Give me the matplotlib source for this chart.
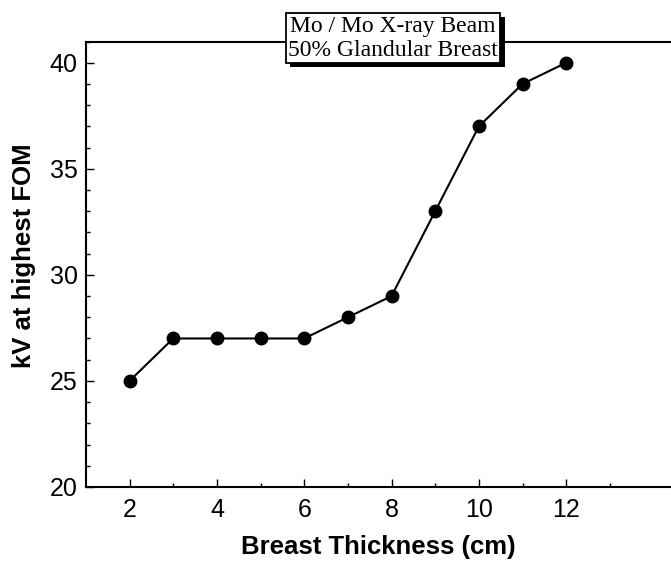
import numpy as np
import matplotlib.pyplot as plt
from matplotlib.ticker import FixedLocator, MultipleLocator
import matplotlib.patheffects as pe

# breast thickness (cm) vs. tube voltage giving the highest FOM
thickness = [2, 3, 4, 5, 6, 7, 8, 9, 10, 11, 12]
kv_best = [25, 27, 27, 27, 27, 28, 29, 33, 37, 39, 40]

fig = plt.figure(figsize=(6.71, 5.61), dpi=100)
ax = fig.add_axes([0.128, 0.132, 0.872, 0.794])

ax.plot(thickness, kv_best, color='black', lw=1.5, marker='o', ms=9,
        markerfacecolor='black', markeredgecolor='black')

ax.set_xlim(1, 14.4)
ax.set_ylim(20, 41)
ax.xaxis.set_major_locator(FixedLocator([2, 4, 6, 8, 10, 12]))
ax.xaxis.set_minor_locator(FixedLocator([3, 5, 7, 9, 11, 13]))
ax.yaxis.set_major_locator(MultipleLocator(5))
ax.yaxis.set_minor_locator(MultipleLocator(1))
ax.tick_params(which='both', direction='in', top=False, right=False, labelsize=18, width=1)
ax.tick_params(which='major', length=6)
ax.tick_params(axis='x', which='major', pad=8)
ax.tick_params(axis='y', which='major', pad=6)
ax.tick_params(which='minor', length=3)
for lab in ax.get_xticklabels() + ax.get_yticklabels():
    lab.set_family('Liberation Sans')

ax.spines['right'].set_visible(False)
for s in ['left', 'bottom', 'top']:
    ax.spines[s].set_linewidth(1.5)

ax.set_xlabel('Breast Thickness (cm)', fontsize=18.5, fontweight='bold',
              family='Liberation Sans', labelpad=9)
ax.set_ylabel('kV at highest FOM', fontsize=18.5, fontweight='bold',
              family='Liberation Sans')
ax.yaxis.set_label_coords(-0.086, 0.519)

# note box with drop shadow
fig.text(0.586, 0.932, 'Mo / Mo X-ray Beam\n50% Glandular Breast',
         ha='center', va='center', fontsize=17, family='Liberation Serif',
         linespacing=1.2,
         bbox=dict(boxstyle='square,pad=0.1', facecolor='white',
                   edgecolor='black', lw=1.3,
                   path_effects=[pe.SimplePatchShadow(offset=(3, -3), shadow_rgbFace='black', alpha=1),
                                 pe.Normal()]))

fig.savefig('out.png', dpi=100)
